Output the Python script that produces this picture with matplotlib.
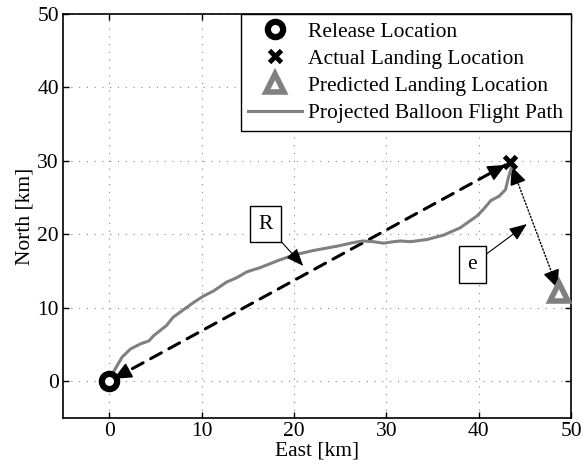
import numpy as np
import matplotlib
matplotlib.use('Agg')
import matplotlib.pyplot as plt
from matplotlib.lines import Line2D

plt.rcParams['font.family'] = ['Liberation Serif', 'DejaVu Serif']
plt.rcParams['font.size'] = 15.5

# ── Data (km) ──
release = (0.0, 0.0)
actual_landing = (43.4, 29.8)
predicted_landing = (48.7, 12.1)

path_east = [0.0, 0.65, 1.4, 2.3, 3.4, 4.3, 4.8, 5.5, 6.2, 6.9, 8.1, 9.1,
             10.2, 11.3, 12.7, 13.8, 14.9, 16.4, 18.2, 20.0, 22.1, 24.7,
             26.5, 27.5, 28.6, 29.7, 30.8, 31.5, 32.6, 34.4, 36.2, 38.0,
             39.8, 40.5, 41.3, 42.2, 42.9, 43.2, 43.6, 43.6]
path_north = [0.3, 1.7, 3.3, 4.4, 5.1, 5.5, 6.2, 6.9, 7.6, 8.7, 9.8, 10.7,
              11.6, 12.3, 13.5, 14.1, 14.9, 15.5, 16.4, 17.2, 17.8, 18.4,
              18.9, 19.1, 19.0, 18.8, 19.0, 19.1, 19.0, 19.3, 19.9, 20.9,
              22.5, 23.4, 24.6, 25.2, 26.1, 27.7, 29.3, 29.8]

ticks = [0, 10, 20, 30, 40, 50]
gray = '#808080'

fig = plt.figure(figsize=(5.84, 4.66), dpi=100)
ax = fig.add_axes([0.108, 0.103, 0.870, 0.867])

head = '-|>,head_length=0.7,head_width=0.32'


def double_arrow(p0, p1, ls, lw):
    """Styled line between two points with solid heads at both ends."""
    p0 = np.asarray(p0); p1 = np.asarray(p1)
    ax.annotate('', xy=p1, xytext=p0,
                arrowprops=dict(arrowstyle='-', ls=ls, lw=lw, color='k',
                                shrinkA=4, shrinkB=4))
    d = (p1 - p0) / np.hypot(*(p1 - p0))
    for tip, back in [(p1, -d), (p0, d)]:
        ax.annotate('', xy=tip + back * 0.6, xytext=tip + back * 2.4,
                    arrowprops=dict(arrowstyle=head, lw=1.2, color='k',
                                    shrinkA=0, shrinkB=0))


# vectors R (release -> actual) and e (actual -> predicted)
double_arrow(release, actual_landing, (0, (4, 2.8)), 2.2)
double_arrow(actual_landing, predicted_landing, (0, (1, 1.5)), 1.0)

ax.plot(path_east, path_north, color=gray, lw=2.2, zorder=3)
ax.plot(*release, marker='o', ms=11, mfc='white', mec='k', mew=4.5,
        ls='none', zorder=4)
ax.plot(*actual_landing, marker='x', ms=9, mec='k', mew=3.5,
        ls='none', zorder=4)
ax.plot(*predicted_landing, marker='^', ms=13, mfc='white', mec=gray,
        mew=4, ls='none', zorder=4)

box = dict(boxstyle='square,pad=0.4', fc='white', ec='k', lw=1)
ax.annotate('R', xy=(21.0, 15.7), xytext=(16.9, 21.4), ha='center',
            va='center', bbox=box,
            arrowprops=dict(arrowstyle='-|>,head_length=0.7,head_width=0.28',
                            lw=0.8, color='k', shrinkA=0, shrinkB=0))
ax.annotate('e', xy=(45.2, 21.4), xytext=(39.3, 15.9), ha='center',
            va='center', bbox=box,
            arrowprops=dict(arrowstyle='-|>,head_length=0.7,head_width=0.28',
                            lw=0.8, color='k', shrinkA=0, shrinkB=0))

ax.set_xlim(-5, 50)
ax.set_ylim(-5, 50)
ax.set_xticks(ticks)
ax.set_yticks(ticks)
ax.set_xlabel('East [km]', labelpad=0)
ax.set_ylabel('North [km]', labelpad=2)
ax.grid(True, ls=(0, (1, 6)), color='#888888', lw=0.8)
ax.tick_params(direction='in', top=True, right=True, length=4, width=1,
               pad=3)
for s in ax.spines.values():
    s.set_linewidth(1.2)

handles = [
    Line2D([], [], marker='o', ms=11, mfc='white', mec='k', mew=4.5, ls='none'),
    Line2D([], [], marker='x', ms=9, mec='k', mew=3.5, ls='none'),
    Line2D([], [], marker='^', ms=13, mfc='white', mec=gray, mew=4, ls='none'),
    Line2D([], [], color=gray, lw=2.2),
]
labels = ['Release Location', 'Actual Landing Location',
          'Predicted Landing Location', 'Projected Balloon Flight Path']
leg = ax.legend(handles, labels, loc='upper right', fancybox=False,
                framealpha=1, edgecolor='k', borderaxespad=0,
                handlelength=2.5, handletextpad=0.3, labelspacing=0.33,
                borderpad=0.35)
leg.get_frame().set_linewidth(1)

fig.savefig('out.png', dpi=100)
